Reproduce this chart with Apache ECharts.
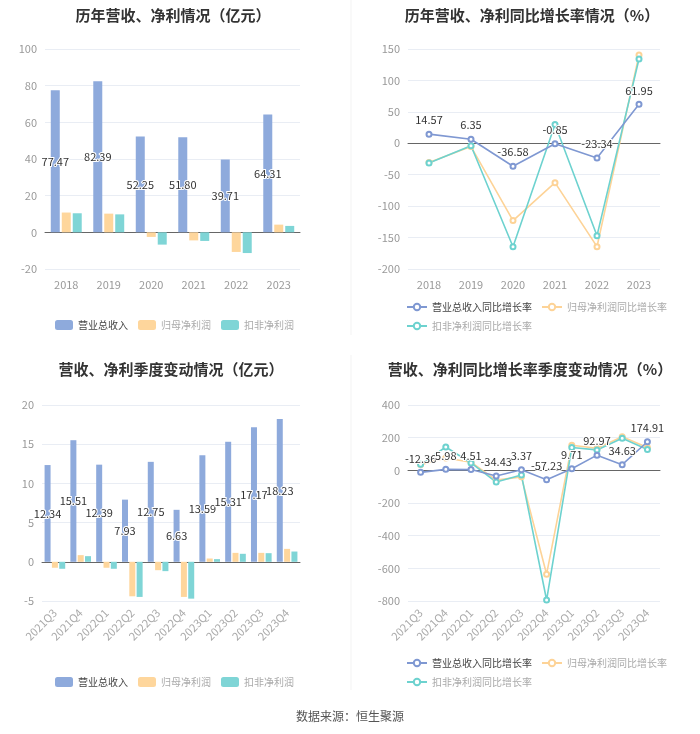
<!DOCTYPE html>
<html lang="zh">
<head>
<meta charset="UTF-8">
<title>营收净利情况</title>
<script src="https://cdn.jsdelivr.net/npm/echarts@6/dist/echarts.min.js"></script>
<style>
  html, body { margin: 0; padding: 0; background: #fff; }
  #main { width: 700px; height: 734px; }
</style>
</head>
<body>
<div id="main"></div>
<script>
// 年度数据
var years = ['2018', '2019', '2020', '2021', '2022', '2023'];
var revenue = [77.47, 82.39, 52.25, 51.80, 39.71, 64.31];
var netProfit = [10.8, 10.2, -2.5, -4.4, -10.7, 4.2];
var deductedProfit = [10.4, 9.8, -6.7, -4.7, -11.3, 3.5];
var revenueGrowth = [14.57, 6.35, -36.58, -0.85, -23.34, 61.95];
var netGrowth = [-30.5, -5.3, -123, -62.6, -164.5, 140.5];
var deductedGrowth = [-31.5, -4, -164.5, 30, -147, 134];

// 季度数据
var quarters = ['2021Q3', '2021Q4', '2022Q1', '2022Q2', '2022Q3', '2022Q4', '2023Q1', '2023Q2', '2023Q3', '2023Q4'];
var qRevenue = [12.34, 15.51, 12.39, 7.93, 12.75, 6.63, 13.59, 15.31, 17.17, 18.23];
var qNetProfit = [-0.76, 0.85, -0.76, -4.4, -1.07, -4.48, 0.42, 1.14, 1.14, 1.65];
var qDeductedProfit = [-0.89, 0.72, -0.89, -4.48, -1.19, -4.7, 0.34, 1.02, 1.1, 1.31];
var qRevenueGrowth = [-12.36, 5.98, 4.51, -34.43, 3.37, -57.23, 9.71, 92.97, 34.63, 174.91];
var qNetGrowth = [35, 75, 50, -60, -40, -636, 154, 135, 205, 140];
var qDeductedGrowth = [37, 143, 45, -72, -28, -794, 140, 125, 196, 128];

var barNames = ['营业总收入', '归母净利润', '扣非净利润'];
var lineNames = ['营业总收入同比增长率', '归母净利润同比增长率', '扣非净利润同比增长率'];

var cBlue = '#8eaadc', cOrange = '#fed69c', cTeal = '#7fd5d6';
var lBlue = '#7f98d2', lOrange = '#fdd397', lTeal = '#6dd2cf';
var font = '"Noto Sans CJK SC", "Microsoft YaHei", sans-serif';

var myChart = echarts.init(document.getElementById('main'));

function legendData(names) {
    return names.map(function (n, i) {
        return { name: n, textStyle: { color: i === 0 ? '#444' : '#aaa' } };
    });
}

function xAxisOf(idx, data, rotate) {
    return {
        type: 'category', gridIndex: idx, data: data,
        axisLine: { onZero: true, lineStyle: { color: '#666' } },
        axisTick: { alignWithLabel: true, length: 4, lineStyle: { color: '#666' } },
        axisLabel: { color: rotate ? '#aaa' : '#999', fontSize: 11, rotate: rotate || 0, interval: 0, margin: 10 }
    };
}

function yAxisOf(idx, min, max, interval) {
    return {
        type: 'value', gridIndex: idx, min: min, max: max, interval: interval,
        axisLine: { show: false }, axisTick: { show: false },
        axisLabel: { color: '#999', fontSize: 11 },
        splitLine: { lineStyle: { color: '#e9edf4' } }
    };
}

var valLabel = {
    show: true, color: '#333', fontSize: 11,
    textBorderColor: '#fff', textBorderWidth: 2,
    formatter: function (p) { return p.value.toFixed(2); }
};

function barSeries(idx, name, data, color, withLabel, width) {
    return {
        name: name, type: 'bar', xAxisIndex: idx, yAxisIndex: idx,
        data: data, barWidth: width, barGap: '22%',
        itemStyle: { color: color },
        label: withLabel ? Object.assign({ position: 'inside' }, valLabel) : { show: false }
    };
}

function lineSeries(idx, name, data, color, withLabel) {
    return {
        name: name, type: 'line', xAxisIndex: idx, yAxisIndex: idx,
        data: data, symbol: 'emptyCircle', symbolSize: 5,
        lineStyle: { color: color, width: 1.6 },
        itemStyle: { color: color },
        label: withLabel ? Object.assign({ position: 'top', distance: 5 }, valLabel) : { show: false },
        z: withLabel ? 5 : 3
    };
}

var titleStyle = { fontSize: 15, fontWeight: 'bold', color: '#333', fontFamily: font };

option = {
    textStyle: { fontFamily: font },
    animation: false,
    title: [
        { text: '历年营收、净利情况（亿元）', left: 168, top: 3, textAlign: 'center', textStyle: titleStyle },
        { text: '历年营收、净利同比增长率情况（%）', left: 527, top: 3, textAlign: 'center', textStyle: titleStyle },
        { text: '营收、净利季度变动情况（亿元）', left: 166, top: 357, textAlign: 'center', textStyle: titleStyle },
        { text: '营收、净利同比增长率季度变动情况（%）', left: 525, top: 357, textAlign: 'center', textStyle: titleStyle }
    ],
    legend: [
        { data: legendData(barNames), left: 50, top: 315, itemWidth: 18, itemHeight: 10, itemGap: 10,
          textStyle: { fontSize: 10 }, icon: 'roundRect' },
        { data: legendData(lineNames), left: 401, top: 297, width: 265, itemWidth: 20, itemHeight: 8, itemGap: 9,
          textStyle: { fontSize: 10 } },
        { data: legendData(barNames), left: 50, top: 672, itemWidth: 18, itemHeight: 10, itemGap: 10,
          textStyle: { fontSize: 10 }, icon: 'roundRect' },
        { data: legendData(lineNames), left: 401, top: 653, width: 265, itemWidth: 20, itemHeight: 8, itemGap: 9,
          textStyle: { fontSize: 10 } }
    ],
    grid: [
        { left: 45, top: 49, width: 255, height: 220 },
        { left: 408, top: 49, width: 252, height: 220 },
        { left: 42, top: 405, width: 258, height: 196 },
        { left: 408, top: 405, width: 252, height: 196 }
    ],
    xAxis: [
        xAxisOf(0, years),
        xAxisOf(1, years),
        xAxisOf(2, quarters, 45),
        xAxisOf(3, quarters, 45)
    ],
    yAxis: [
        yAxisOf(0, -20, 100, 20),
        yAxisOf(1, -200, 150, 50),
        yAxisOf(2, -5, 20, 5),
        yAxisOf(3, -800, 400, 200)
    ],
    series: [
        barSeries(0, barNames[0], revenue, cBlue, true, 9),
        barSeries(0, barNames[1], netProfit, cOrange, false, 9),
        barSeries(0, barNames[2], deductedProfit, cTeal, false, 9),
        lineSeries(1, lineNames[1], netGrowth, lOrange, false),
        lineSeries(1, lineNames[2], deductedGrowth, lTeal, false),
        lineSeries(1, lineNames[0], revenueGrowth, lBlue, true),
        barSeries(2, barNames[0], qRevenue, cBlue, true, 6),
        barSeries(2, barNames[1], qNetProfit, cOrange, false, 6),
        barSeries(2, barNames[2], qDeductedProfit, cTeal, false, 6),
        lineSeries(3, lineNames[1], qNetGrowth, lOrange, false),
        lineSeries(3, lineNames[2], qDeductedGrowth, lTeal, false),
        lineSeries(3, lineNames[0], qRevenueGrowth, lBlue, true)
    ],
    graphic: [
        { type: 'line', shape: { x1: 351, y1: 0, x2: 351, y2: 335 }, style: { stroke: '#f3f3f3', lineWidth: 1 } },
        { type: 'line', shape: { x1: 351, y1: 355, x2: 351, y2: 690 }, style: { stroke: '#f3f3f3', lineWidth: 1 } },
        { type: 'text', left: 'center', top: 710,
          style: { text: '数据来源：恒生聚源', fontSize: 12, fill: '#555', fontFamily: font } }
    ]
};

myChart.setOption(option);
</script>
</body>
</html>
